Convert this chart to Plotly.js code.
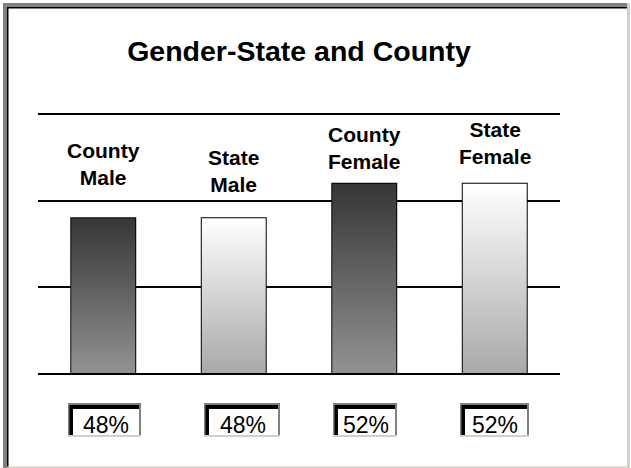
<!DOCTYPE html>
<html>
<head>
<meta charset="utf-8">
<script src="https://cdn.plot.ly/plotly-3.0.1.min.js"></script>
<style>
html,body{margin:0;padding:0;background:#fff;}
#chart{width:631px;height:468px;}
</style>
</head>
<body>
<div id="chart"></div>
<script>
// ---- data ----
const categories = ['County<br>Male', 'State<br>Male', 'County<br>Female', 'State<br>Female'];
const values = [48, 48, 52, 52];
const valueSuffix = '%';
const chartTitle = 'Gender-State and County';

// ---- styles / layout helpers ----
const W = 631, H = 468;
const PL = 38, PR = 560, PT = 115, PB = 373;
const yMin = 30, yMax = 60;
const barWidth = 0.49;
const barTopColors = ['#363636', '#ffffff', '#363636', '#ffffff'];
const barBottomColors = ['#929292', '#a9a9a9', '#929292', '#a9a9a9'];
const labelLift = [54, 47, 36, 41];            // px above bar top (label centre)
const boxLeft = [68, 204, 333, 460];
const boxRight = [141, 280, 397, 529];
const boxTop = 403, boxBottom = 437;
const boxTextX = [106, 242.5, 366, 494.5];
const boxTextY = 425;

const px2x = p => (p - PL) / (PR - PL);
const px2y = p => (PB - p) / (PB - PT);

const idx = values.map((_, i) => i);
const traces = [];
values.forEach((v, i) => {
  const h = barWidth / 2;
  traces.push({
    type: 'scatter', mode: 'lines',
    x: [i - h, i - h, i + h, i + h, i - h],
    y: [yMin, v, v, yMin, yMin],
    fill: 'toself',
    fillgradient: {type: 'vertical', colorscale: [[0, barBottomColors[i]], [1, barTopColors[i]]]},
    line: {width: 0, color: 'rgba(0,0,0,0)'},
    hoverinfo: 'skip', showlegend: false
  });
});
traces.push({
  type: 'bar', x: idx, y: values, width: barWidth,
  marker: {color: 'rgba(0,0,0,0)', line: {color: '#000', width: 2}},
  hoverinfo: 'skip', showlegend: false
});

const shapes = [];
function rectPx(x0, y0, x1, y1, color) {
  shapes.push({type: 'rect', xref: 'paper', yref: 'paper',
    x0: px2x(x0), x1: px2x(x1), y0: px2y(y0), y1: px2y(y1),
    fillcolor: color, line: {width: 0}, layer: 'above'});
}
// outer 3D frame
rectPx(3, 3, 628, 7, '#808080');
rectPx(3, 3, 7, 468, '#808080');
rectPx(7, 7, 627, 8.5, '#000000');
rectPx(7, 7, 8.5, 468, '#000000');
rectPx(627, 3, 630, 468, '#d4d0c8');
rectPx(7, 466.5, 630, 468, '#d4d0c8');

// value boxes
const annotations = [];
values.forEach((v, i) => {
  const L = boxLeft[i], R = boxRight[i];
  rectPx(L, boxTop, R, boxBottom, '#d4d0c8');
  rectPx(L, boxTop, R, boxBottom - 2, '#808080');
  rectPx(L + 1.5, boxTop + 2, R - 2, boxBottom - 2, '#000000');
  rectPx(L + 5, boxTop + 6, R - 2, boxBottom - 2, '#ffffff');
  annotations.push({
    xref: 'paper', yref: 'paper', x: px2x(boxTextX[i]), y: px2y(boxTextY),
    xanchor: 'center', yanchor: 'middle', showarrow: false,
    text: v + valueSuffix,
    font: {family: 'Liberation Sans, Arial, sans-serif', size: 23, color: '#000'}
  });
  annotations.push({
    xref: 'x', yref: 'y', x: i, y: v, yshift: labelLift[i],
    xanchor: 'center', yanchor: 'middle', showarrow: false,
    text: '<b>' + categories[i] + '</b>',
    font: {family: 'Liberation Sans, Arial, sans-serif', size: 21, color: '#000'}
  });
});

const layout = {
  width: W, height: H,
  margin: {l: PL, r: W - PR, t: PT, b: H - PB, pad: 0},
  paper_bgcolor: '#ffffff', plot_bgcolor: '#ffffff',
  title: {text: '<b>' + chartTitle + '</b>', x: 299 / W, xanchor: 'center',
    y: 1 - 51 / H, yanchor: 'middle', yref: 'container',
    font: {family: 'Liberation Sans, Arial, sans-serif', size: 28.5, color: '#000'}},
  xaxis: {range: [-0.5, 3.5], showgrid: false, zeroline: false, showticklabels: false,
    ticks: '', showline: true, mirror: true, linecolor: '#000', linewidth: 2, fixedrange: true},
  yaxis: {range: [yMin, yMax], tick0: 0, dtick: 10, showgrid: true, gridcolor: '#000', gridwidth: 2,
    zeroline: false, showticklabels: false, ticks: '', showline: false, fixedrange: true},
  showlegend: false,
  shapes: shapes,
  annotations: annotations
};

Plotly.newPlot('chart', traces, layout, {displayModeBar: false, staticPlot: true});
</script>
</body>
</html>
